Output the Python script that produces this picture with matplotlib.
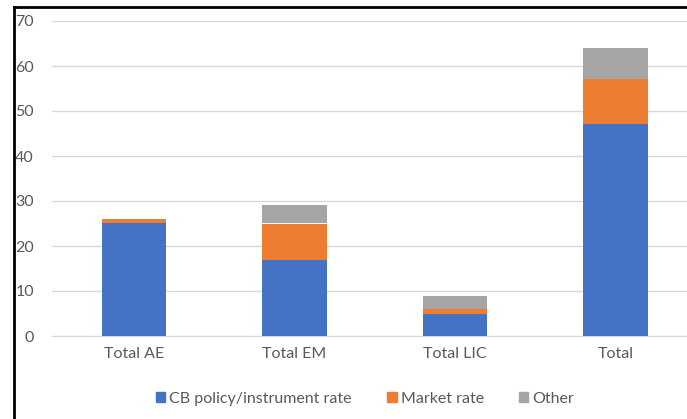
import matplotlib
matplotlib.use("Agg")
import matplotlib.pyplot as plt
import numpy as np
from matplotlib.lines import Line2D
from matplotlib.patches import Patch

categories = ["Total AE", "Total EM", "Total LIC", "Total"]
cb_policy = [25, 17, 5, 47]
market = [1, 8, 1, 10]
other = [0, 4, 3, 7]
yticks = [0, 10, 20, 30, 40, 50, 60, 70]

blue = "#4472C4"
orange = "#ED7D31"
grey = "#A5A5A5"
text_col = "#595959"

plt.rcParams['font.family'] = ['Lato', 'DejaVu Sans']

fig = plt.figure(figsize=(6.87, 4.19), dpi=100)
ax = fig.add_axes([52 / 687, 83 / 419, 1 - 52 / 687, 315 / 419])

x = np.arange(len(categories))
cb = np.array(cb_policy)
mk = np.array(market)
ot = np.array(other)
w = 0.4
ax.bar(x, cb, w, color=blue, zorder=3, label="CB policy/instrument rate")
ax.bar(x, mk, w, bottom=cb, color=orange, zorder=3, label="Market rate")
ax.bar(x, ot, w, bottom=cb + mk, color=grey, zorder=3, label="Other")

ax.set_xlim(-0.511, 3.445)
ax.set_ylim(0, 70)
ax.set_yticks(yticks)
ax.set_xticks(x)
ax.set_xticklabels(categories)
ax.grid(axis="y", color="#D9D9D9", linewidth=1, zorder=0)
for s in ["top", "right", "left"]:
    ax.spines[s].set_visible(False)
ax.spines["bottom"].set_color("#D9D9D9")
ax.tick_params(axis="both", length=0, labelsize=11.5, labelcolor=text_col)
ax.tick_params(axis="y", pad=13)
ax.tick_params(axis="x", pad=8)

handles = [Patch(color=blue), Patch(color=orange), Patch(color=grey)]
fig.legend(handles, ["CB policy/instrument rate", "Market rate", "Other"],
           loc="center", bbox_to_anchor=(365 / 687, 1 - 399 / 419), ncol=3,
           frameon=False, fontsize=11.5, labelcolor=text_col,
           handlelength=0.6, handleheight=0.6, handletextpad=0.25,
           columnspacing=2.2)

# border of the screenshot frame
fig.add_artist(Line2D([14 / 687, 14 / 687], [0, 1 - 7 / 419], color="black",
                      linewidth=2, transform=fig.transFigure))
fig.add_artist(Line2D([14 / 687, 1], [1 - 7 / 419, 1 - 7 / 419], color="black",
                      linewidth=2, transform=fig.transFigure))

fig.savefig("out.png", dpi=100)
